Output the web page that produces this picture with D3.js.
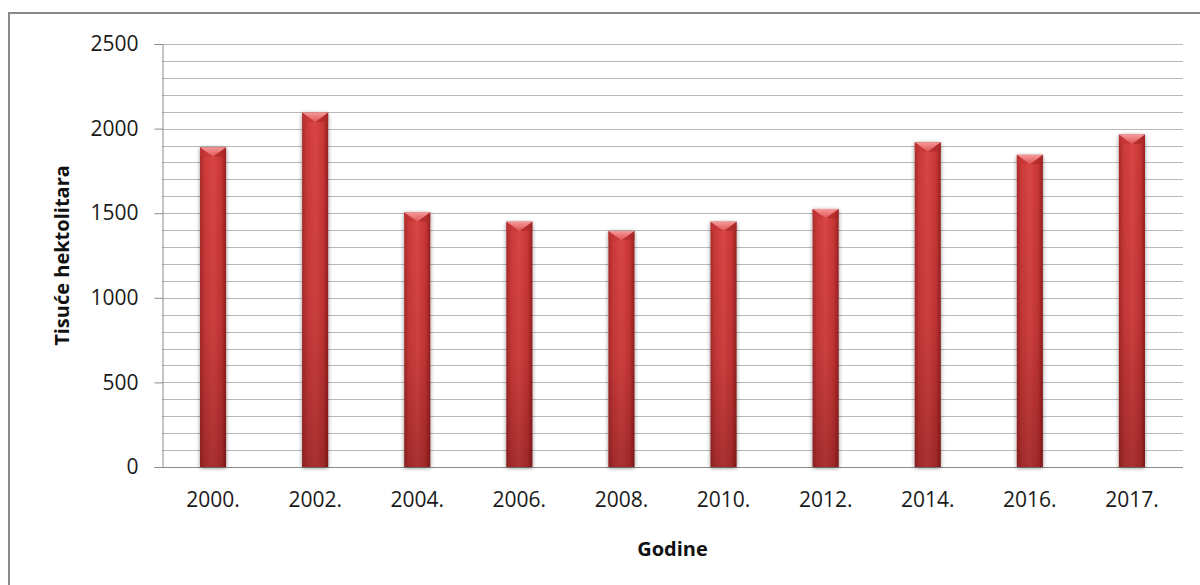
<!DOCTYPE html>
<html>
<head>
<meta charset="utf-8">
<script src="https://cdn.jsdelivr.net/npm/d3@7"></script>
<style>
  html, body { margin: 0; padding: 0; background: #fff; }
  svg { display: block; }
</style>
</head>
<body>
<svg id="chart" width="1200" height="585"></svg>
<script>
// Proizvodnja (tisuće hektolitara) po godinama
const years = ["2000.", "2002.", "2004.", "2006.", "2008.", "2010.", "2012.", "2014.", "2016.", "2017."];
const values = [1890, 2095, 1505, 1450, 1395, 1450, 1525, 1920, 1845, 1965];
const majorTicks = [0, 500, 1000, 1500, 2000, 2500];
const minorTicks = d3.range(0, 2501, 100);

const svg = d3.select("#chart");
const font = "'Open Sans', Lato, sans-serif";

const plot = { left: 162, right: 1183, top: 44, bottom: 467 };

const x = d3.scaleBand()
  .domain(years)
  .range([plot.left, plot.right])
  .paddingInner(0.745)
  .paddingOuter(0.3725);

const y = d3.scaleLinear()
  .domain([0, 2500])
  .range([plot.bottom, plot.top]);

// Outer frame
svg.append("rect")
  .attr("x", 9).attr("y", 13)
  .attr("width", 1200).attr("height", 600)
  .attr("fill", "#fff")
  .attr("stroke", "#8a8a8a").attr("stroke-width", 2);

const defs = svg.append("defs");

// Horizontal shading of a bar: darker edges, brighter middle
const gH = defs.append("linearGradient").attr("id", "barH")
  .attr("x1", "0").attr("x2", "1").attr("y1", "0").attr("y2", "0");
[["0%", "#a82a2a"], ["18%", "#cc3a3a"], ["50%", "#d94545"], ["82%", "#c83636"], ["100%", "#962020"]]
  .forEach(([o, c]) => gH.append("stop").attr("offset", o).attr("stop-color", c));

// Vertical darkening toward the base
const gV = defs.append("linearGradient").attr("id", "barV")
  .attr("x1", "0").attr("x2", "0").attr("y1", "0").attr("y2", "1");
[["0%", 0], ["55%", 0.08], ["100%", 0.28]]
  .forEach(([o, a]) => gV.append("stop").attr("offset", o).attr("stop-color", "#300000").attr("stop-opacity", a));

// Top bevel triangle
const gT = defs.append("linearGradient").attr("id", "bevel")
  .attr("x1", "0").attr("x2", "0").attr("y1", "0").attr("y2", "1");
[["0%", "#f59a9a"], ["100%", "#e05454"]]
  .forEach(([o, c]) => gT.append("stop").attr("offset", o).attr("stop-color", c));

// Soft shadow around bars
const f = defs.append("filter").attr("id", "shadow")
  .attr("x", "-40%").attr("y", "-10%").attr("width", "180%").attr("height", "120%");
f.append("feGaussianBlur").attr("in", "SourceAlpha").attr("stdDeviation", 2).attr("result", "b");
f.append("feOffset").attr("in", "b").attr("dx", 0).attr("dy", 1).attr("result", "o");
f.append("feComponentTransfer").attr("in", "o").attr("result", "s")
  .append("feFuncA").attr("type", "linear").attr("slope", 0.45);
const m = f.append("feMerge");
m.append("feMergeNode").attr("in", "s");
m.append("feMergeNode").attr("in", "SourceGraphic");

// Gridlines every 100
svg.append("g")
  .selectAll("line")
  .data(minorTicks.filter(d => d > 0))
  .join("line")
  .attr("x1", plot.left).attr("x2", plot.right)
  .attr("y1", d => Math.round(y(d)) + 0.5).attr("y2", d => Math.round(y(d)) + 0.5)
  .attr("stroke", "#b8b8b8").attr("stroke-width", 1);

// Y axis
const yAxis = svg.append("g")
  .attr("transform", `translate(${plot.left + 0.5},0)`)
  .call(d3.axisLeft(y).tickValues(majorTicks).tickSize(8).tickPadding(16).tickFormat(d3.format("d")));
yAxis.select(".domain").attr("stroke", "#8a8a8a");
yAxis.selectAll(".tick line").attr("stroke", "#8a8a8a");
yAxis.selectAll(".tick text")
  .attr("font-family", font).attr("font-size", 21).attr("fill", "#1a1a1a");

// X axis
const xAxis = svg.append("g")
  .attr("transform", `translate(0,${plot.bottom + 0.5})`)
  .call(d3.axisBottom(x).tickSize(0).tickPadding(25));
xAxis.select(".domain").attr("stroke", "#8a8a8a").attr("d", `M${plot.left},0H${plot.right}`);
xAxis.selectAll(".tick text")
  .attr("font-family", font).attr("font-size", 21).attr("fill", "#1a1a1a");

// Bars
const bars = svg.append("g").selectAll("g")
  .data(years.map((yr, i) => ({ yr, v: values[i] })))
  .join("g")
  .attr("transform", d => `translate(${x(d.yr)},${y(d.v)})`);

const bw = x.bandwidth();
bars.append("rect")
  .attr("width", bw)
  .attr("height", d => y(0) - y(d.v))
  .attr("fill", "url(#barH)")
  .attr("filter", "url(#shadow)");
bars.append("rect")
  .attr("width", bw)
  .attr("height", d => y(0) - y(d.v))
  .attr("fill", "url(#barV)");
// bevelled top: darker side wedges and a light central wedge
bars.append("path")
  .attr("d", `M0,0L${bw / 2},${bw * 0.36}L0,${bw * 0.36}Z`)
  .attr("fill", "#c23434").attr("opacity", 0.6);
bars.append("path")
  .attr("d", `M${bw},0L${bw / 2},${bw * 0.36}L${bw},${bw * 0.36}Z`)
  .attr("fill", "#a82828").attr("opacity", 0.6);
bars.append("path")
  .attr("d", `M0,0L${bw},0L${bw / 2},${bw * 0.36}Z`)
  .attr("fill", "url(#bevel)");

// Axis titles
svg.append("text")
  .attr("transform", `translate(69,${(plot.top + plot.bottom) / 2}) rotate(-90)`)
  .attr("text-anchor", "middle")
  .attr("font-family", font).attr("font-weight", "bold").attr("font-size", 20).attr("fill", "#111")
  .text("Tisuće hektolitara");

svg.append("text")
  .attr("x", (plot.left + plot.right) / 2).attr("y", 556)
  .attr("text-anchor", "middle")
  .attr("font-family", font).attr("font-weight", "bold").attr("font-size", 20).attr("fill", "#111")
  .text("Godine");
</script>
</body>
</html>
